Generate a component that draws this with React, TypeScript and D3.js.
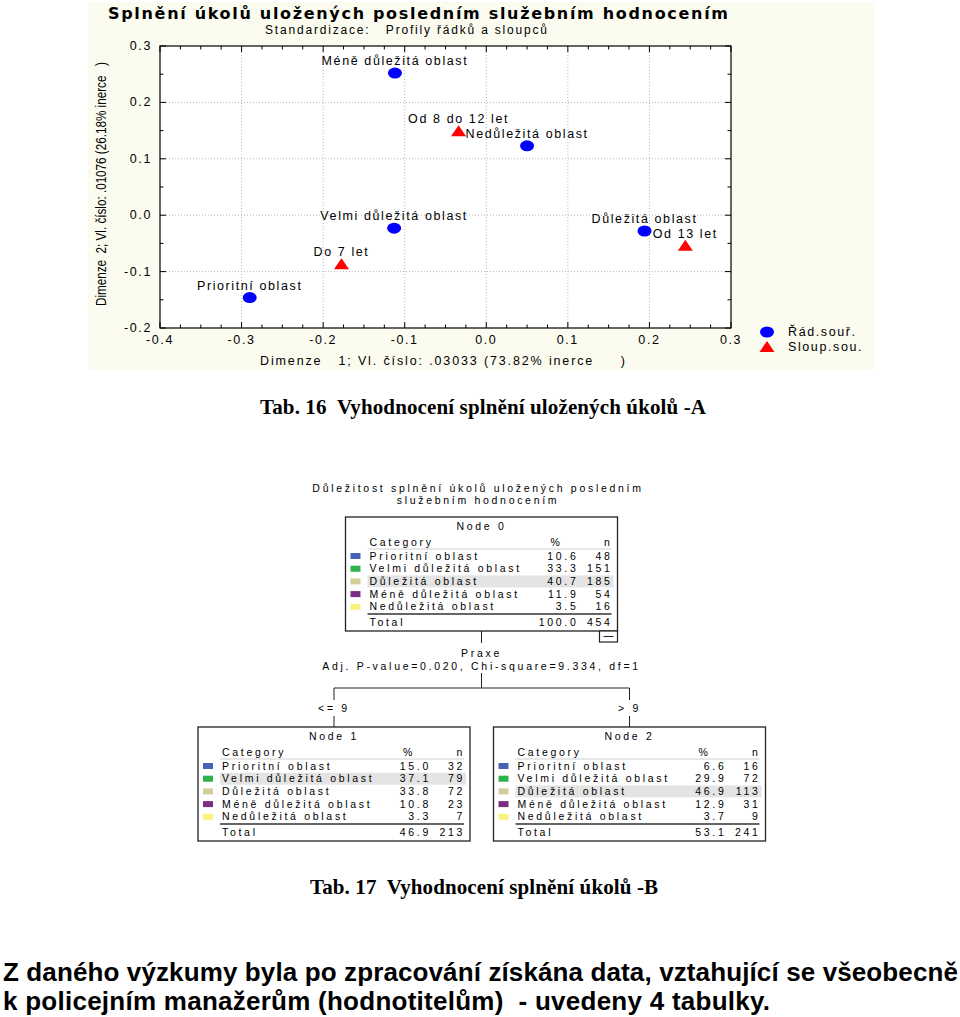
import React from 'react';
import * as d3 from 'd3';

// ---------- Correspondence analysis data ----------
const rowLabels = ['Prioritní oblast', 'Velmi důležitá oblast', 'Důležitá oblast', 'Méně důležitá oblast', 'Nedůležitá oblast'];
const rowDim1 = [-0.290, -0.113, 0.194, -0.112, 0.050];
const rowDim2 = [-0.146, -0.023, -0.028, 0.252, 0.123];
const colLabels = ['Do 7 let', 'Od 8 do 12 let', 'Od 13 let'];
const colDim1 = [-0.1775, -0.034, 0.244];
const colDim2 = [-0.087, 0.149, -0.054];
const xTicks = [-0.4, -0.3, -0.2, -0.1, 0.0, 0.1, 0.2, 0.3];
const yTicks = [-0.2, -0.1, 0.0, 0.1, 0.2, 0.3];
const legendLabels = ['Řád.souř.', 'Sloup.sou.'];

// ---------- Decision tree data ----------
const categoryNames = ['Prioritní oblast', 'Velmi důležitá oblast', 'Důležitá oblast', 'Méně důležitá oblast', 'Nedůležitá oblast'];
const categoryColors = ['#4763b6', '#2cb34c', '#d3cd9b', '#7b2d82', '#f7f37c'];
const node0Pct = [10.6, 33.3, 40.7, 11.9, 3.5];
const node0N = [48, 151, 185, 54, 16];
const node1Pct = [15.0, 37.1, 33.8, 10.8, 3.3];
const node1N = [32, 79, 72, 23, 7];
const node2Pct = [6.6, 29.9, 46.9, 12.9, 3.7];
const node2N = [16, 72, 113, 31, 9];
const nodeTotalPct = [100.0, 46.9, 53.1];
const nodeTotalN = [454, 213, 241];
const splitLabels = ['<= 9', '> 9'];

const SANS = 'Liberation Sans, Arial, sans-serif';
const WIDE = 'DejaVu Sans, Verdana, sans-serif';
const SERIF = 'Liberation Serif, Times New Roman, serif';

const fmt1 = (v: number) => d3.format('.1f')(v).replace('\u2212', '-');

function Scatter() {
  const x = d3.scaleLinear().domain([-0.4, 0.3]).range([160, 731]);
  const y = d3.scaleLinear().domain([-0.2, 0.3]).range([328, 46]);
  const [x0, x1] = x.range();
  const [y0, y1] = y.range();
  const minorX = d3.range(-0.4, 0.3001, 0.025);
  const minorY = d3.range(-0.2, 0.3001, 0.05);
  const labelStyle = { fontFamily: SANS, fontSize: 12.5, letterSpacing: 1.6 } as const;
  const isMajor = (v: number, step: number) => Math.abs(v / step - Math.round(v / step)) < 1e-6;
  const tri = (cx: number, cy: number) => `M${cx - 7.5},${cy + 5} L${cx + 7.5},${cy + 5} L${cx},${cy - 6} Z`;

  return (
    <g>
      <rect x={88} y={2} width={787} height={368} fill="#fbfbef" />
      <text x={108} y={19} fontFamily={WIDE} fontWeight="bold" fontSize={16} textLength={620} lengthAdjust="spacing">
        Splnění úkolů uložených posledním služebním hodnocením
      </text>
      <text x={265} y={34} fontFamily={SANS} fontSize={12} textLength={282} lengthAdjust="spacing" style={{ whiteSpace: 'pre' }}>
        {'Standardizace:   Profily řádků a sloupců'}
      </text>
      <rect x={x0} y={y1} width={x1 - x0} height={y0 - y1} fill="#ffffff" />
      {xTicks.slice(1, -1).map((t) => (
        <line key={'gx' + t} x1={x(t)} x2={x(t)} y1={y1} y2={y0} stroke="#b8b8b8" strokeDasharray="1,2" />
      ))}
      {yTicks.slice(1, -1).map((t) => (
        <line key={'gy' + t} x1={x0} x2={x1} y1={y(t)} y2={y(t)} stroke="#b8b8b8" strokeDasharray="1,2" />
      ))}
      {minorX.map((t) => {
        const len = isMajor(t, 0.1) ? 6 : 3.5;
        return (
          <g key={'tx' + t}>
            <line x1={x(t)} x2={x(t)} y1={y0} y2={y0 - len} stroke="#000" />
            <line x1={x(t)} x2={x(t)} y1={y1} y2={y1 + len} stroke="#000" />
          </g>
        );
      })}
      {minorY.map((t) => {
        const len = isMajor(t, 0.1) ? 6 : 3.5;
        return (
          <g key={'ty' + t}>
            <line x1={x0} x2={x0 + len} y1={y(t)} y2={y(t)} stroke="#000" />
            <line x1={x1} x2={x1 - len} y1={y(t)} y2={y(t)} stroke="#000" />
          </g>
        );
      })}
      <rect x={x0} y={y1} width={x1 - x0} height={y0 - y1} fill="none" stroke="#000" strokeWidth={1.2} />
      {xTicks.map((t) => (
        <text key={'lx' + t} x={x(t)} y={344} textAnchor="middle" {...labelStyle}>{fmt1(t)}</text>
      ))}
      {yTicks.map((t) => (
        <text key={'ly' + t} x={152} y={y(t) + 4} textAnchor="end" {...labelStyle}>{fmt1(t)}</text>
      ))}
      <text x={260} y={365} fontFamily={SANS} fontSize={12.5} textLength={365} lengthAdjust="spacing" style={{ whiteSpace: 'pre' }}>
        {'Dimenze   1; Vl. číslo: .03033 (73.82% inerce     )'}
      </text>
      <text transform="translate(106,184) rotate(-90)" x={0} y={0} textAnchor="middle" fontFamily={SANS} fontSize={14}
        textLength={244} lengthAdjust="spacingAndGlyphs" style={{ whiteSpace: 'pre' }}>
        {'Dimenze  2; Vl. číslo: .01076 (26.18% inerce   )'}
      </text>
      {rowLabels.map((lab, i) => (
        <g key={lab}>
          <ellipse cx={x(rowDim1[i])} cy={y(rowDim2[i])} rx={7} ry={5.5} fill="#0000ff" />
          <text x={x(rowDim1[i])} y={y(rowDim2[i]) - 8} textAnchor="middle" {...labelStyle}>{lab}</text>
        </g>
      ))}
      {colLabels.map((lab, i) => (
        <g key={lab}>
          <path d={tri(x(colDim1[i]), y(colDim2[i]))} fill="#ff0000" />
          <text x={x(colDim1[i])} y={y(colDim2[i]) - 8} textAnchor="middle" {...labelStyle}>{lab}</text>
        </g>
      ))}
      <ellipse cx={767} cy={332} rx={7} ry={5.5} fill="#0000ff" />
      <text x={788} y={336} {...labelStyle}>{legendLabels[0]}</text>
      <path d={tri(767, 347)} fill="#ff0000" />
      <text x={788} y={351} {...labelStyle}>{legendLabels[1]}</text>
    </g>
  );
}

const TW = 272;
const TH = 114;
const treeFont = { fontFamily: SANS, fontSize: 10.5, letterSpacing: 2.7 } as const;

function TreeNode({ left, top, title, pct, n, totalPct, totalN }: {
  left: number; top: number; title: string; pct: number[]; n: number[]; totalPct: number; totalN: number;
}) {
  const best = d3.maxIndex(pct);
  const rowY = (i: number) => top + 39 + i * 12.7;
  return (
    <g>
      <rect x={left} y={top} width={TW} height={TH} fill="#fff" stroke="#222" strokeWidth={1.3} />
      <text x={left + TW / 2} y={top + 9} dy="0.35em" textAnchor="middle" {...treeFont}>{title}</text>
      <text x={left + 24} y={top + 25} dy="0.35em" {...treeFont}>Category</text>
      <text x={left + 211} y={top + 25} dy="0.35em" textAnchor="middle" {...treeFont}>%</text>
      <text x={left + 267} y={top + 25} dy="0.35em" textAnchor="end" {...treeFont}>n</text>
      <line x1={left + 22} x2={left + 266} y1={top + 32} y2={top + 32} stroke="#cfcfcf" />
      <rect x={left + 22} y={rowY(best) - 6} width={246} height={12} fill="#e4e4e4" />
      {categoryNames.map((c, i) => (
        <g key={c}>
          <rect x={left + 5} y={rowY(i) - 3} width={10} height={6} fill={categoryColors[i]} />
          <text x={left + 24} y={rowY(i)} dy="0.35em" {...treeFont}>{c}</text>
          <text x={left + 233} y={rowY(i)} dy="0.35em" textAnchor="end" {...treeFont}>{fmt1(pct[i])}</text>
          <text x={left + 267} y={rowY(i)} dy="0.35em" textAnchor="end" {...treeFont}>{n[i]}</text>
        </g>
      ))}
      <line x1={left + 22} x2={left + 266} y1={top + 97} y2={top + 97} stroke="#333" strokeWidth={1.5} />
      <text x={left + 24} y={top + 105} dy="0.35em" {...treeFont}>Total</text>
      <text x={left + 233} y={top + 105} dy="0.35em" textAnchor="end" {...treeFont}>{fmt1(totalPct)}</text>
      <text x={left + 267} y={top + 105} dy="0.35em" textAnchor="end" {...treeFont}>{totalN}</text>
    </g>
  );
}

function Tree() {
  const rootLeft = 345.5, rootTop = 517;
  const leftLeft = 198, rightLeft = 493.5, childTop = 727;
  const cx0 = rootLeft + TW / 2;
  const cxL = leftLeft + TW / 2;
  const cxR = rightLeft + TW / 2;
  const bottom = rootTop + TH;
  return (
    <g>
      <rect x={193} y={475} width={580} height={370} fill="#fff" />
      <text x={478} y={488} dy="0.35em" textAnchor="middle" {...treeFont}>Důležitost splnění úkolů uložených posledním</text>
      <text x={478} y={500.5} dy="0.35em" textAnchor="middle" {...treeFont}>služebním hodnocením</text>
      <TreeNode left={rootLeft} top={rootTop} title="Node 0" pct={node0Pct} n={node0N} totalPct={nodeTotalPct[0]} totalN={nodeTotalN[0]} />
      <rect x={rootLeft + TW - 18} y={bottom} width={18} height={11} fill="#fff" stroke="#222" strokeWidth={1.2} />
      <line x1={rootLeft + TW - 14} x2={rootLeft + TW - 4} y1={bottom + 5.5} y2={bottom + 5.5} stroke="#222" />
      <line x1={cx0} x2={cx0} y1={bottom} y2={bottom + 12} stroke="#222" />
      <text x={cx0} y={653} dy="0.35em" textAnchor="middle" {...treeFont}>Praxe</text>
      <text x={cx0} y={666} dy="0.35em" textAnchor="middle" {...treeFont}>Adj. P-value=0.020, Chi-square=9.334, df=1</text>
      <line x1={cx0} x2={cx0} y1={673} y2={688} stroke="#222" />
      <line x1={cxL} x2={cxR} y1={688} y2={688} stroke="#222" />
      {[cxL, cxR].map((cx, i) => (
        <g key={'br' + i}>
          <line x1={cx} x2={cx} y1={688} y2={700} stroke="#222" />
          <text x={cx} y={708} dy="0.35em" textAnchor="middle" {...treeFont}>{splitLabels[i]}</text>
          <line x1={cx} x2={cx} y1={716} y2={childTop} stroke="#222" />
        </g>
      ))}
      <TreeNode left={leftLeft} top={childTop} title="Node 1" pct={node1Pct} n={node1N} totalPct={nodeTotalPct[1]} totalN={nodeTotalN[1]} />
      <TreeNode left={rightLeft} top={childTop} title="Node 2" pct={node2Pct} n={node2N} totalPct={nodeTotalPct[2]} totalN={nodeTotalN[2]} />
    </g>
  );
}

export default function App() {
  return (
    <svg width={960} height={1017} style={{ position: 'absolute', left: 0, top: 0, background: '#fff' }}>
      <rect x={0} y={0} width={960} height={1017} fill="#fff" />
      <Scatter />
      <text x={260} y={414} fontFamily={SERIF} fontWeight="bold" fontSize={21} textLength={446} lengthAdjust="spacing" style={{ whiteSpace: 'pre' }}>
        {'Tab. 16  Vyhodnocení splnění uložených úkolů -A'}
      </text>
      <Tree />
      <text x={310} y={894} fontFamily={SERIF} fontWeight="bold" fontSize={21} textLength={348} lengthAdjust="spacing" style={{ whiteSpace: 'pre' }}>
        {'Tab. 17  Vyhodnocení splnění úkolů -B'}
      </text>
      <text x={3} y={981} fontFamily={SANS} fontWeight="bold" fontSize={26} textLength={955} lengthAdjust="spacing">
        Z daného výzkumy byla po zpracování získána data, vztahující se všeobecně
      </text>
      <text x={3} y={1010} fontFamily={SANS} fontWeight="bold" fontSize={26} textLength={767} lengthAdjust="spacing" style={{ whiteSpace: 'pre' }}>
        {'k policejním manažerům (hodnotitelům)  - uvedeny 4 tabulky.'}
      </text>
    </svg>
  );
}
